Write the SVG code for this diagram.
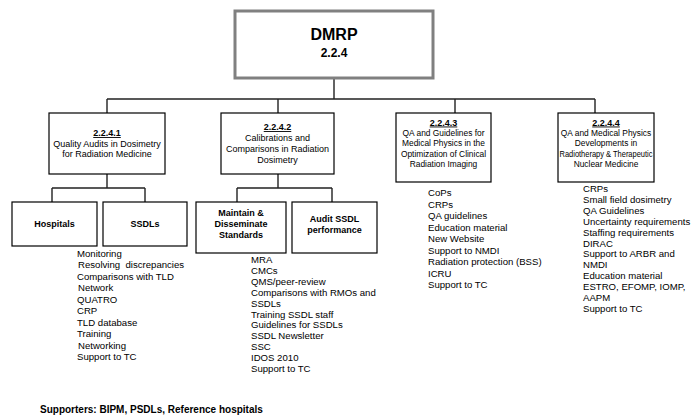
<svg xmlns="http://www.w3.org/2000/svg" width="693" height="419" viewBox="0 0 693 419">
<style>
text{font-family:"Liberation Sans",Arial,sans-serif;fill:#000}
.box{fill:#fff;stroke:#000;stroke-width:1.2}
.bt{font-size:9px;text-anchor:middle}
.bs{font-size:8.4px;text-anchor:middle}
.hd{font-size:9px;font-weight:bold;text-anchor:middle;text-decoration:underline}
.sb{font-size:9px;font-weight:bold;text-anchor:middle}
.li{font-size:9.6px}
.con{fill:none;stroke:#222;stroke-width:1.4}
</style>
<rect width="693" height="419" fill="#fff"/>
<g id="connectors">
<path class="con" d="M334 78V99M107 99H595M107 99V113M278 99V113M455 99V113M595 99V113"/>
<path class="con" d="M107 174V188M52 188H145M52 188V202M145 188V202"/>
<path class="con" d="M278 174V188M237 188H332M237 188V202M332 188V202"/>
</g>
<g id="dmrp">
<rect x="235" y="11" width="198" height="67" fill="#fff" stroke="#808080" stroke-width="3"/>
<text x="334" y="40" font-size="16" font-weight="bold" text-anchor="middle">DMRP</text>
<text x="334" y="57" font-size="12" font-weight="bold" text-anchor="middle">2.2.4</text>
</g>
<g id="n2241">
<rect class="box" x="49" y="113" width="116" height="61"/>
<text class="hd" x="107" y="136">2.2.4.1</text>
<text class="bt" x="107" y="146.5">Quality Audits in Dosimetry</text>
<text class="bt" x="107" y="157">for Radiation Medicine</text>
</g>
<g id="n2242">
<rect class="box" x="221" y="113" width="113" height="61"/>
<text class="hd" x="277.5" y="130">2.2.4.2</text>
<text class="bt" x="277.5" y="141">Calibrations and</text>
<text class="bt" x="277.5" y="152">Comparisons in Radiation</text>
<text class="bt" x="277.5" y="163">Dosimetry</text>
</g>
<g id="n2243">
<rect class="box" x="396" y="113" width="95" height="69"/>
<text class="hd" x="443.5" y="125.5">2.2.4.3</text>
<text class="bs" x="443.5" y="135.5">QA and Guidelines for</text>
<text class="bs" x="443.5" y="146">Medical Physics in the</text>
<text class="bs" x="443.5" y="156.5">Optimization of Clinical</text>
<text class="bs" x="443.5" y="167">Radiation Imaging</text>
</g>
<g id="n2244">
<rect class="box" x="558" y="113" width="96" height="69"/>
<text class="hd" x="606" y="125.5">2.2.4.4</text>
<text class="bs" x="606" y="135.5">QA and Medical Physics</text>
<text class="bs" x="606" y="146">Developments in</text>
<text class="bs" x="606" y="156.5" textLength="93" lengthAdjust="spacingAndGlyphs">Radiotherapy &amp; Therapeutic</text>
<text class="bs" x="606" y="167">Nuclear Medicine</text>
</g>
<g id="hospitals">
<rect class="box" x="12" y="202" width="85" height="44"/>
<text class="sb" x="54.5" y="227">Hospitals</text>
</g>
<g id="ssdls">
<rect class="box" x="103" y="202" width="84" height="44"/>
<text class="sb" x="145" y="227">SSDLs</text>
</g>
<g id="maintain">
<rect class="box" x="196" y="202" width="90" height="51"/>
<text class="sb" x="241" y="216">Maintain &amp;</text>
<text class="sb" x="241" y="227">Disseminate</text>
<text class="sb" x="241" y="238">Standards</text>
</g>
<g id="audit">
<rect class="box" x="292" y="202" width="85" height="51"/>
<text class="sb" x="334.5" y="222">Audit SSDL</text>
<text class="sb" x="334.5" y="233">performance</text>
</g>
<g id="list1">
<text class="li" x="77" y="256.5">Monitoring</text>
<text class="li" x="78" y="268" xml:space="preserve">Resolving  discrepancies</text>
<text class="li" x="77" y="279.5">Comparisons with TLD</text>
<text class="li" x="78" y="291">Network</text>
<text class="li" x="77" y="302.5">QUATRO</text>
<text class="li" x="77" y="314">CRP</text>
<text class="li" x="77" y="325.5">TLD database</text>
<text class="li" x="77" y="337">Training</text>
<text class="li" x="78" y="348.5">Networking</text>
<text class="li" x="77" y="360">Support to TC</text>
</g>
<g id="list2">
<text class="li" x="251" y="263">MRA</text>
<text class="li" x="251" y="273.9">CMCs</text>
<text class="li" x="251" y="284.8">QMS/peer-review</text>
<text class="li" x="251" y="295.7">Comparisons with RMOs and</text>
<text class="li" x="251" y="306.6">SSDLs</text>
<text class="li" x="251" y="317.5">Training SSDL staff</text>
<text class="li" x="251" y="328.4">Guidelines for SSDLs</text>
<text class="li" x="251" y="339.3">SSDL Newsletter</text>
<text class="li" x="251" y="350.2">SSC</text>
<text class="li" x="251" y="361.1">IDOS 2010</text>
<text class="li" x="251" y="372">Support to TC</text>
</g>
<g id="list3">
<text class="li" x="428" y="196">CoPs</text>
<text class="li" x="428" y="207.5">CRPs</text>
<text class="li" x="428" y="219">QA guidelines</text>
<text class="li" x="428" y="230.5">Education material</text>
<text class="li" x="428" y="242">New Website</text>
<text class="li" x="428" y="253.5">Support to NMDI</text>
<text class="li" x="428" y="265">Radiation protection (BSS)</text>
<text class="li" x="428" y="276.5">ICRU</text>
<text class="li" x="428" y="288">Support to TC</text>
</g>
<g id="list4">
<text class="li" x="583" y="192">CRPs</text>
<text class="li" x="583" y="202.9">Small field dosimetry</text>
<text class="li" x="583" y="213.8">QA Guidelines</text>
<text class="li" x="583" y="224.7">Uncertainty requirements</text>
<text class="li" x="583" y="235.6">Staffing requirements</text>
<text class="li" x="583" y="246.5">DIRAC</text>
<text class="li" x="583" y="257.4">Support to ARBR and</text>
<text class="li" x="583" y="268.3">NMDI</text>
<text class="li" x="583" y="279.2">Education material</text>
<text class="li" x="583" y="290.1">ESTRO, EFOMP, IOMP,</text>
<text class="li" x="583" y="301">AAPM</text>
<text class="li" x="583" y="312">Support to TC</text>
</g>
<text x="40" y="413" font-size="10" font-weight="bold">Supporters: BIPM, PSDLs, Reference hospitals</text>
</svg>
